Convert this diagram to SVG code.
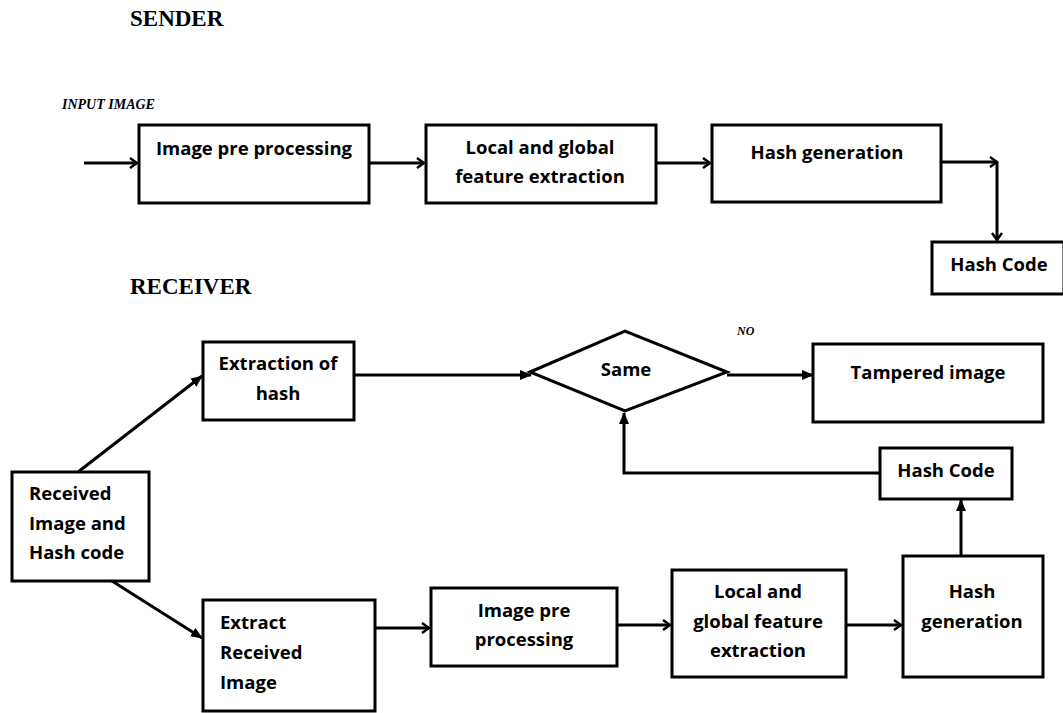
<svg xmlns="http://www.w3.org/2000/svg" width="1063" height="713" viewBox="0 0 1063 713">
<defs>
<style>
.box{fill:#fff;stroke:#000;stroke-width:3}
.t{font-family:"Open Sans","Liberation Sans",sans-serif;font-weight:bold;font-size:18.5px;fill:#000;text-anchor:middle}
.tl{text-anchor:start}
.h{font-family:"Liberation Serif",serif;font-weight:bold;font-size:23px;fill:#000}
.it{font-family:"Liberation Serif",serif;font-weight:bold;font-style:italic;font-size:14px;fill:#000}
.c{fill:none;stroke:#000;stroke-width:3}
</style>
<marker id="open" viewBox="0 0 12 12" refX="10" refY="6" markerWidth="12" markerHeight="12" markerUnits="userSpaceOnUse" orient="auto">
<path d="M3,1 L10,6 L3,11" fill="none" stroke="#000" stroke-width="2.5"/>
</marker>
<marker id="fill" viewBox="0 0 12 12" refX="11" refY="6" markerWidth="12" markerHeight="12" markerUnits="userSpaceOnUse" orient="auto">
<path d="M0,1 L12,6 L0,11 Z" fill="#000"/>
</marker>
</defs>
<rect width="1063" height="713" fill="#fff"/>
<text class="h" x="130" y="26">SENDER</text>
<text class="h" x="130" y="294">RECEIVER</text>
<text class="it" x="62" y="109">INPUT IMAGE</text>
<text class="it" x="737" y="335" style="font-size:12px">NO</text>
<g id="connectors">
<line class="c" x1="84" y1="163" x2="137" y2="163" marker-end="url(#open)"/>
<line class="c" x1="369" y1="163" x2="424" y2="163" marker-end="url(#open)"/>
<line class="c" x1="656" y1="163" x2="710" y2="163" marker-end="url(#open)"/>
<line class="c" x1="941" y1="162" x2="997" y2="162" marker-end="url(#open)"/>
<line class="c" x1="997" y1="162" x2="997" y2="240" marker-end="url(#open)"/>
<line class="c" x1="78" y1="472" x2="202" y2="376" marker-end="url(#fill)"/>
<line class="c" x1="112" y1="581" x2="202" y2="638" marker-end="url(#fill)"/>
<line class="c" x1="354" y1="375" x2="531" y2="375" marker-end="url(#fill)"/>
<line class="c" x1="727" y1="375" x2="813" y2="375" marker-end="url(#fill)"/>
<polyline class="c" points="880,473 624,473 624,413" marker-end="url(#fill)"/>
<line class="c" x1="961" y1="556" x2="961" y2="500" marker-end="url(#fill)"/>
<line class="c" x1="375" y1="628" x2="429" y2="628" marker-end="url(#open)"/>
<line class="c" x1="617" y1="625" x2="670" y2="625" marker-end="url(#open)"/>
<line class="c" x1="846" y1="625" x2="901" y2="625" marker-end="url(#open)"/>
</g>
<g id="s_pre"><rect class="box" x="139" y="125" width="230" height="78"/><text class="t" x="254" y="155">Image pre processing</text></g>
<g id="s_feat"><rect class="box" x="426" y="125" width="230" height="78"/><text class="t" x="540" y="154">Local and global</text><text class="t" x="540" y="183">feature extraction</text></g>
<g id="s_hash"><rect class="box" x="712" y="125" width="229" height="77"/><text class="t" x="827" y="159">Hash generation</text></g>
<g id="s_code"><rect class="box" x="932" y="242" width="132" height="52"/><text class="t" x="999" y="271">Hash Code</text></g>
<g id="r_recv"><rect class="box" x="12" y="472" width="137" height="109"/><text class="t tl" x="29" y="500">Received</text><text class="t tl" x="29" y="530">Image and</text><text class="t tl" x="29" y="559">Hash code</text></g>
<g id="r_exh"><rect class="box" x="203" y="342" width="151" height="78"/><text class="t" x="278" y="370">Extraction of</text><text class="t" x="278" y="400">hash</text></g>
<g id="r_same"><polygon class="box" points="530,372 625,331 727,372 625,411"/><text class="t" x="626" y="376">Same</text></g>
<g id="r_tamp"><rect class="box" x="813" y="344" width="230" height="78"/><text class="t" x="928" y="379">Tampered image</text></g>
<g id="r_code"><rect class="box" x="880" y="448" width="132" height="51"/><text class="t" x="946" y="477">Hash Code</text></g>
<g id="r_exi"><rect class="box" x="203" y="600" width="172" height="111"/><text class="t tl" x="220" y="629">Extract</text><text class="t tl" x="220" y="659">Received</text><text class="t tl" x="220" y="689">Image</text></g>
<g id="r_pre"><rect class="box" x="431" y="588" width="186" height="78"/><text class="t" x="524" y="617">Image pre</text><text class="t" x="524" y="646">processing</text></g>
<g id="r_feat"><rect class="box" x="672" y="570" width="174" height="107"/><text class="t" x="758" y="598">Local and</text><text class="t" x="758" y="628">global feature</text><text class="t" x="758" y="657">extraction</text></g>
<g id="r_hash"><rect class="box" x="903" y="556" width="140" height="121"/><text class="t" x="972" y="598">Hash</text><text class="t" x="972" y="628">generation</text></g>
</svg>
